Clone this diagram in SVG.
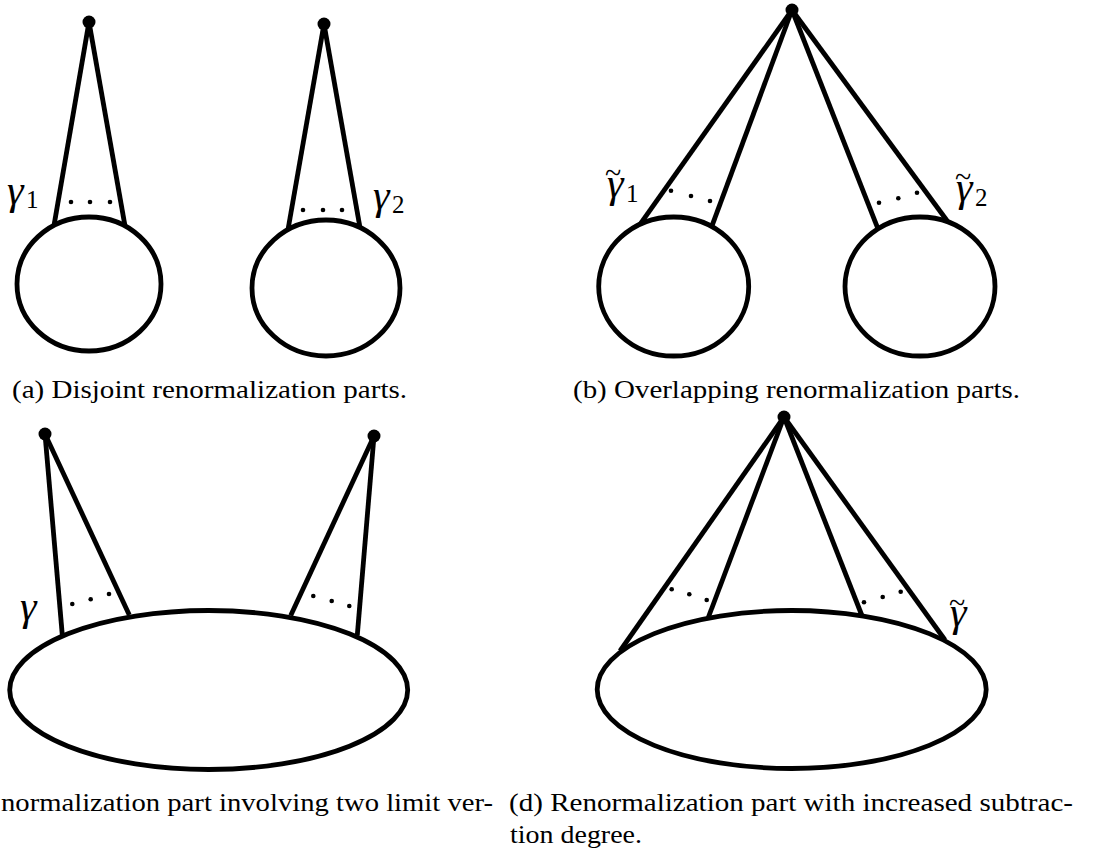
<svg xmlns="http://www.w3.org/2000/svg" width="1094" height="854" viewBox="0 0 1094 854">
<style>
.bub{fill:none;stroke:#000;stroke-width:4.8}
.edge{stroke:#000;stroke-width:4.8;stroke-linecap:butt}
.vtx{fill:#000}
.dot{fill:#000}
.math{font-family:"Liberation Serif",serif;font-style:italic;font-size:42px;fill:#000}
.sub{font-style:normal;font-size:25px}
.tl{font-style:normal;font-size:30px}
.cap{font-family:"Liberation Serif",serif;font-size:26px;fill:#000}
</style>
<rect width="1094" height="854" fill="#fff"/>

<g id="connectors">
  <line class="edge" x1="89" y1="22" x2="54" y2="225.5"/>
  <line class="edge" x1="89" y1="22" x2="125" y2="226"/>
  <line class="edge" x1="324" y1="24" x2="288" y2="229.7"/>
  <line class="edge" x1="324" y1="24" x2="360" y2="227.6"/>
  <line class="edge" x1="792" y1="10" x2="640" y2="224.4"/>
  <line class="edge" x1="792" y1="10" x2="711.7" y2="226.6"/>
  <line class="edge" x1="792" y1="10" x2="878" y2="228.9"/>
  <line class="edge" x1="792" y1="10" x2="948" y2="222"/>
  <line class="edge" x1="45" y1="434" x2="62.3" y2="635"/>
  <line class="edge" x1="45" y1="434" x2="129.3" y2="615"/>
  <line class="edge" x1="374" y1="436" x2="290.7" y2="615.5"/>
  <line class="edge" x1="374" y1="436" x2="357.3" y2="635"/>
  <line class="edge" x1="784" y1="417" x2="620" y2="651"/>
  <line class="edge" x1="784" y1="417" x2="708.3" y2="617.5"/>
  <line class="edge" x1="784" y1="417" x2="861.7" y2="615"/>
  <line class="edge" x1="784" y1="417" x2="945" y2="640"/>
</g>

<g id="panel-a">
  <g id="a-vertex-1"><circle class="vtx" cx="89" cy="22" r="6.5"/></g>
  <g id="a-vertex-2"><circle class="vtx" cx="324" cy="24" r="6.5"/></g>
  <g id="a-bubble-1"><ellipse class="bub" cx="89" cy="284" rx="72" ry="67"/></g>
  <g id="a-bubble-2"><ellipse class="bub" cx="326" cy="288" rx="74" ry="68"/></g>
  <g id="a-dots-1">
    <circle class="dot" cx="71" cy="202" r="2.3"/>
    <circle class="dot" cx="90" cy="202" r="2.3"/>
    <circle class="dot" cx="110" cy="202" r="2.3"/>
  </g>
  <g id="a-dots-2">
    <circle class="dot" cx="303" cy="210" r="2.3"/>
    <circle class="dot" cx="323" cy="210" r="2.3"/>
    <circle class="dot" cx="342" cy="210" r="2.3"/>
  </g>
  <g id="a-label-1"><text class="math"><tspan x="7" y="204">γ</tspan><tspan class="sub" x="26" y="208">1</tspan></text></g>
  <g id="a-label-2"><text class="math"><tspan x="373" y="209">γ</tspan><tspan class="sub" x="392" y="213">2</tspan></text></g>
  <text class="cap" x="12" y="398" textLength="395" lengthAdjust="spacingAndGlyphs">(a) Disjoint renormalization parts.</text>
</g>

<g id="panel-b">
  <g id="b-vertex"><circle class="vtx" cx="792" cy="10" r="6.5"/></g>
  <g id="b-bubble-1"><ellipse class="bub" cx="673.7" cy="286.5" rx="75" ry="69.5"/></g>
  <g id="b-bubble-2"><ellipse class="bub" cx="920" cy="286.5" rx="75" ry="69.5"/></g>
  <g id="b-dots-1">
    <circle class="dot" cx="671" cy="190.7" r="2.3"/>
    <circle class="dot" cx="691" cy="196" r="2.3"/>
    <circle class="dot" cx="710" cy="201" r="2.3"/>
  </g>
  <g id="b-dots-2">
    <circle class="dot" cx="879" cy="202.7" r="2.3"/>
    <circle class="dot" cx="898.3" cy="198.3" r="2.3"/>
    <circle class="dot" cx="917" cy="192.7" r="2.3"/>
  </g>
  <g id="b-label-1"><text class="math"><tspan x="607" y="197">γ</tspan><tspan class="tl" x="605" y="183">~</tspan><tspan class="sub" x="626" y="202">1</tspan></text></g>
  <g id="b-label-2"><text class="math"><tspan x="956" y="201">γ</tspan><tspan class="tl" x="955" y="187">~</tspan><tspan class="sub" x="975" y="206">2</tspan></text></g>
  <text class="cap" x="573" y="398" textLength="447" lengthAdjust="spacingAndGlyphs">(b) Overlapping renormalization parts.</text>
</g>

<g id="panel-c">
  <g id="c-vertex-1"><circle class="vtx" cx="45" cy="434" r="6.5"/></g>
  <g id="c-vertex-2"><circle class="vtx" cx="374" cy="436" r="6.5"/></g>
  <g id="c-bubble"><ellipse class="bub" cx="208.7" cy="690" rx="199" ry="79.5"/></g>
  <g id="c-dots-1">
    <circle class="dot" cx="72.3" cy="604" r="2.3"/>
    <circle class="dot" cx="90.7" cy="599.3" r="2.3"/>
    <circle class="dot" cx="109" cy="594" r="2.3"/>
  </g>
  <g id="c-dots-2">
    <circle class="dot" cx="313.3" cy="596" r="2.3"/>
    <circle class="dot" cx="331.7" cy="601" r="2.3"/>
    <circle class="dot" cx="349.3" cy="606" r="2.3"/>
  </g>
  <g id="c-label"><text class="math" x="20" y="620">γ</text></g>
  <text class="cap" x="1" y="811" textLength="492" lengthAdjust="spacingAndGlyphs">normalization part involving two limit ver-</text>
</g>

<g id="panel-d">
  <g id="d-vertex"><circle class="vtx" cx="784" cy="417" r="6.5"/></g>
  <g id="d-bubble"><ellipse class="bub" cx="791.7" cy="689.5" rx="194.5" ry="79"/></g>
  <g id="d-dots-1">
    <circle class="dot" cx="671.7" cy="589.3" r="2.3"/>
    <circle class="dot" cx="689.3" cy="594.3" r="2.3"/>
    <circle class="dot" cx="706.7" cy="600" r="2.3"/>
  </g>
  <g id="d-dots-2">
    <circle class="dot" cx="864" cy="602.3" r="2.3"/>
    <circle class="dot" cx="882.7" cy="597" r="2.3"/>
    <circle class="dot" cx="900.7" cy="591.7" r="2.3"/>
  </g>
  <g id="d-label"><text class="math"><tspan x="950" y="626">γ</tspan><tspan class="tl" x="949" y="613">~</tspan></text></g>
  <text class="cap" x="509" y="811" textLength="564" lengthAdjust="spacingAndGlyphs">(d) Renormalization part with increased subtrac-</text>
  <text class="cap" x="510" y="843" textLength="132" lengthAdjust="spacingAndGlyphs">tion degree.</text>
</g>
</svg>
